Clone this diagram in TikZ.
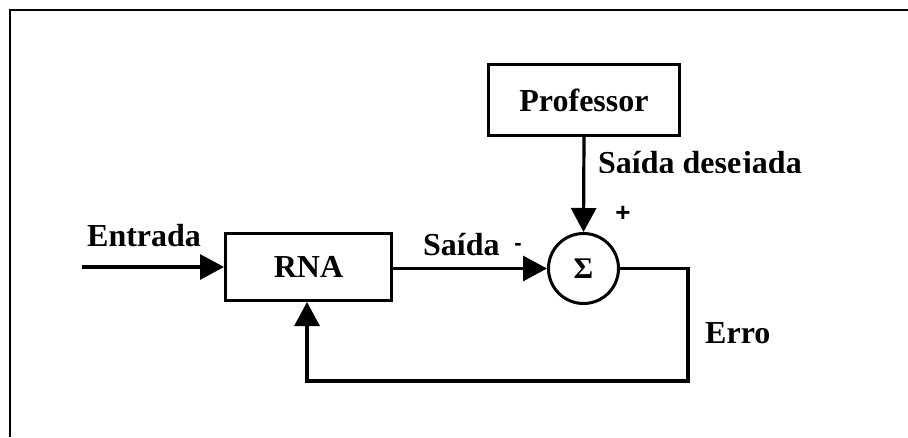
\documentclass[tikz,border=0pt]{standalone}
\usepackage{fontspec}
\setmainfont{Liberation Serif}
\newfontfamily\signfont{Liberation Sans}
\usetikzlibrary{arrows.meta}
\begin{document}
\begin{tikzpicture}[x=1pt,y=-1pt,
  lbl/.style={font=\fontsize{32}{36}\selectfont\bfseries, inner sep=0pt},
  sgn/.style={font=\signfont\fontsize{26}{30}\selectfont\bfseries, inner sep=0pt},
  blockbox/.style={draw, line width=3pt, inner sep=0pt,
    font=\fontsize{32}{36}\selectfont\bfseries},
  wire/.style={line width=3.2pt},
  flow/.style={wire, -{Triangle[length=24pt,width=25pt]}}]
  \useasboundingbox (0,0) rectangle (908,437);
  % open frame: top and left edges only
  \draw[line width=2.2pt] (10,437) -- (10,10) -- (908,10);

  % blocks
  \node[blockbox, minimum width=166pt, minimum height=67pt] (rna) at (308.5,267) {RNA};
  \node[blockbox, minimum width=191pt, minimum height=71pt] (prof) at (584,100) {Professor};
  \node[draw, circle, line width=3pt, minimum size=70pt, inner sep=0pt,
    font=\fontsize{30}{34}\selectfont\bfseries] (sum) at (583.5,268.5) {Σ};

  % signal path
  \coordinate (in) at (82,267);
  \coordinate (e1) at (688,381);
  \coordinate (e2) at (307,381);
  \draw[flow] (in) -- (rna.west);
  \draw[flow] (rna.east |- sum.west) -- (sum.west);
  \draw[flow] (prof.south) -- (sum.north);
  \draw[flow] (sum.east) -| (e1) -- (e2) -- (e2 |- rna.south);

  % labels
  \node[lbl, anchor=base west] (tin) at (87,246) {Entrada};
  \node[lbl, anchor=base west] (tout) at (423,255) {Saída};
  \node[sgn, font=\signfont\fontsize{22}{26}\selectfont\bfseries, anchor=center] (tminus) at (518,247) {-};
  \node[sgn, anchor=center] (tplus) at (623,214) {+};
  \begin{scope}
    \clip (590,130) rectangle (820,172.5);
    \node[lbl, anchor=base west] (tdes) at (598,173) {Saída desejada};
  \end{scope}
  \node[lbl, anchor=base west] (terr) at (705,343) {Erro};
\end{tikzpicture}
\end{document}
